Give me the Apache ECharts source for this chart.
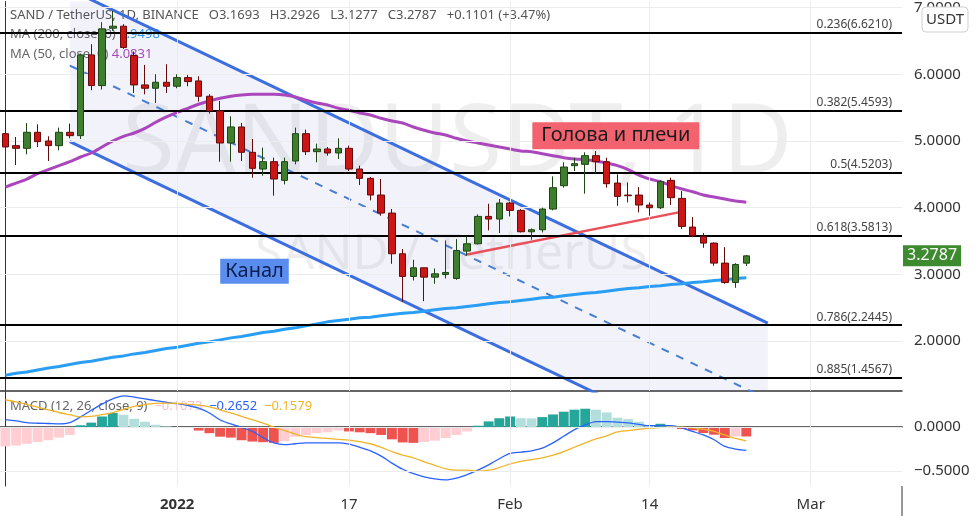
<!DOCTYPE html>
<html>
<head>
<meta charset="utf-8">
<script src="https://cdn.jsdelivr.net/npm/echarts@6/dist/echarts.min.js"></script>
<style>
  html, body { margin: 0; padding: 0; background: #fff; }
  #chart { width: 977px; height: 516px; }
</style>
</head>
<body>
<div id="chart"></div>
<script>
// daily slots, Dec 16 2021 .. Mar 9 2022 (candles fill the first 70)
const days = [];
for (let d = new Date(Date.UTC(2021, 11, 16)), k = 0; k < 84; k++, d.setUTCDate(d.getUTCDate() + 1)) {
  days.push(d.toISOString().slice(0, 10));
}
const tickIdx = [16, 32, 47, 60, 75];
const tickText = ['2022', '17', 'Feb', '14', 'Mar'];
const priceTicks = [2, 3, 4, 5, 6, 7];
const macdTicks = [0, -0.5];

// OHLC
const candleO = [5.11,4.93,4.89,5.13,5.00,4.93,5.13,5.08,6.29,5.83, 6.69,6.72,6.28,5.84,5.79,5.88,5.82,5.95,5.90,5.67,
  5.45,4.97,5.21,4.83,4.58,4.69,4.41,4.70,5.11,4.84, 4.88,4.82,4.89,4.58,4.44,4.19,3.92,3.31,2.97,3.10,
  2.96,3.00,2.94,3.35,3.46,3.87,3.83,4.07,3.96,3.64, 3.67,3.98,4.33,4.63,4.65,4.78,4.69,4.37,4.19,4.19,
  4.04,4.00,4.41,4.14,3.71,3.57,3.47,3.17,2.88,3.1693];
const candleC = [4.91,4.89,5.13,4.99,4.93,5.13,5.08,6.29,5.83,6.68, 6.72,6.40,5.84,5.79,5.88,5.82,5.95,5.89,5.67,5.45,
  4.97,5.21,4.83,4.59,4.69,4.43,4.69,5.11,4.84,4.88, 4.82,4.89,4.58,4.44,4.19,3.92,3.31,2.97,3.10,2.96,
  3.01,3.03,3.36,3.46,3.87,3.83,4.07,3.96,3.64,3.67, 3.98,4.30,4.61,4.66,4.78,4.69,4.36,4.17,4.18,4.04,
  4.00,4.39,4.15,3.72,3.58,3.47,3.17,2.88,3.15,3.2787];
const candleL = [4.90,4.64,4.80,4.91,4.70,4.86,5.04,5.03,5.76,5.77, 6.65,6.38,5.72,5.70,5.57,5.72,5.79,5.82,5.59,5.41,
  4.69,4.69,4.70,4.45,4.48,4.18,4.35,4.65,4.79,4.68, 4.78,4.73,4.55,4.34,4.11,3.88,3.16,2.59,2.91,2.60,
  2.86,2.94,2.92,3.28,3.45,3.66,3.62,3.87,3.63,3.52, 3.63,3.96,4.30,4.55,4.21,4.51,4.30,4.03,4.08,3.93,
  3.88,3.98,4.04,3.68,3.56,3.40,3.13,2.86,2.80,3.1277];
const candleH = [5.34,5.06,5.27,5.25,5.07,5.20,5.26,6.31,6.45,6.78, 6.95,6.75,6.34,6.14,6.00,6.15,6.00,5.99,5.97,5.70,
  5.60,5.37,5.27,5.03,4.90,4.75,4.75,5.20,5.17,4.96, 4.91,5.04,4.93,4.63,4.46,4.43,3.98,3.38,3.22,3.10,
  3.09,3.51,3.53,3.57,3.90,4.06,4.13,4.09,3.98,3.69, 4.00,4.47,4.68,4.75,4.83,4.85,4.75,4.50,4.38,4.31,
  4.08,4.41,4.45,4.25,3.86,3.62,3.48,3.41,3.17,3.2926];

const ma50 = [4.31,4.37,4.43,4.51,4.57,4.63,4.69,4.76,4.82,4.91, 5.00,5.07,5.12,5.19,5.28,5.36,5.43,5.49,5.55,5.60,
  5.64,5.67,5.69,5.70,5.70,5.70,5.69,5.66,5.61,5.57, 5.54,5.49,5.46,5.42,5.39,5.34,5.30,5.27,5.21,5.16,
  5.12,5.09,5.04,5.00,4.97,4.94,4.91,4.88,4.85,4.84, 4.81,4.78,4.75,4.73,4.72,4.70,4.67,4.63,4.57,4.49,
  4.43,4.39,4.33,4.28,4.24,4.19,4.16,4.13,4.10,4.0831];
const ma200 = [1.49,1.52,1.54,1.57,1.60,1.62,1.65,1.68,1.70,1.73, 1.76,1.78,1.81,1.83,1.86,1.89,1.91,1.94,1.97,1.99,
  2.02,2.05,2.07,2.10,2.13,2.15,2.18,2.20,2.23,2.26, 2.29,2.31,2.33,2.35,2.36,2.38,2.40,2.42,2.43,2.45,
  2.47,2.49,2.50,2.52,2.54,2.56,2.58,2.59,2.61,2.63, 2.65,2.66,2.68,2.70,2.72,2.73,2.75,2.77,2.79,2.80,
  2.82,2.83,2.85,2.86,2.88,2.89,2.91,2.92,2.94,2.9498];

// MACD (12, 26, close, 9)
const macdHist = [-0.22,-0.21,-0.19,-0.17,-0.15,-0.12,-0.09,0.02,0.05,0.12, 0.16,0.14,0.094,0.06,0.026,0.007,-0.003,-0.01,-0.04,-0.07,
  -0.11,-0.12,-0.15,-0.165,-0.172,-0.18,-0.16,-0.11,-0.09,-0.07, -0.06,-0.04,-0.05,-0.06,-0.07,-0.09,-0.14,-0.175,-0.18,-0.17,
  -0.155,-0.125,-0.09,-0.05,0.015,0.064,0.10,0.12,0.10,0.098, 0.113,0.143,0.174,0.197,0.208,0.197,0.166,0.106,0.09,0.06,
  0.02,0.037,0.015,-0.023,-0.038,-0.068,-0.087,-0.125,-0.106,-0.1073];
const macdLine = [0.085,0.07,0.05,0.043,0.04,0.036,0.05,0.115,0.19,0.26, 0.32,0.355,0.34,0.32,0.30,0.28,0.265,0.245,0.215,0.16,
  0.08,0.035,-0.005,-0.05,-0.12,-0.18,-0.2,-0.19,-0.18,-0.18, -0.18,-0.18,-0.195,-0.23,-0.27,-0.33,-0.41,-0.48,-0.53,-0.565,
  -0.59,-0.6,-0.58,-0.54,-0.49,-0.43,-0.36,-0.30,-0.285,-0.27, -0.24,-0.18,-0.105,-0.03,0.025,0.062,0.062,0.055,0.047,0.03,
  0.015,0.015,0.015,-0.01,-0.05,-0.09,-0.145,-0.22,-0.25,-0.2652];
const signalLine = [0.31,0.285,0.255,0.225,0.195,0.165,0.14,0.115,0.12,0.14, 0.165,0.20,0.235,0.255,0.268,0.272,0.268,0.258,0.25,0.23,
  0.195,0.16,0.12,0.085,0.045,0.0,-0.04,-0.08,-0.11,-0.12, -0.13,-0.14,-0.148,-0.165,-0.19,-0.23,-0.28,-0.32,-0.35,-0.395,
  -0.435,-0.475,-0.49,-0.49,-0.5,-0.49,-0.46,-0.42,-0.39,-0.37, -0.35,-0.32,-0.28,-0.23,-0.18,-0.135,-0.10,-0.055,-0.04,-0.025,
  -0.012,-0.005,0.0,0.0,-0.01,-0.025,-0.05,-0.09,-0.13,-0.1579];

// drawings (x = day slot, y = price)
const fibRatio = ['0.236', '0.382', '0.5', '0.618', '0.786', '0.885'];
const fibPrice = [6.6210, 5.4593, 4.5203, 3.5813, 2.2445, 1.4567];
const chanX = [6, 71];
const chanTop = [7.27, 2.27];
const chanMid = [6.13, 1.13];
const chanBot = [4.99, -0.01];
const neckX = [43, 62.7];
const neckY = [3.30, 3.93];
const lastPrice = 3.2787;

const FONT = '"Noto Sans", sans-serif';
const chart = echarts.init(document.getElementById('chart'));

const candles = candleO.map((o, i) => [o, candleC[i], candleL[i], candleH[i]]);
const pts = (xs, ys) => xs.map((x, i) => [x, ys[i]]);

function histColor(p) {
  const v = macdHist[p.dataIndex];
  const prev = p.dataIndex > 0 ? macdHist[p.dataIndex - 1] : v;
  if (v >= 0) return v >= prev ? '#26a69a' : '#b2dfdb';
  return v < prev ? '#ef5350' : '#ffcdd2';
}

const option = {
  animation: false,
  textStyle: { fontFamily: FONT },
  grid: [
    { left: 0, right: 75, top: 0, height: 391 },
    { left: 0, right: 75, top: 392, height: 94 }
  ],
  xAxis: [
    { type: 'category', gridIndex: 0, data: days, axisLine: { lineStyle: { color: '#333', width: 1.5 } },
      axisTick: { show: false }, axisLabel: { show: false }, splitLine: { show: false } },
    { type: 'category', gridIndex: 1, data: days, axisLine: { lineStyle: { color: '#333', width: 1.5 } },
      axisTick: { show: false }, splitLine: { show: false },
      axisLabel: {
        interval: (i) => tickIdx.includes(i),
        formatter: (v, i) => {
          const k = tickIdx.indexOf(i);
          return k === 0 ? '{b|' + tickText[k] + '}' : tickText[k];
        },
        fontSize: 15, color: '#333', margin: 11,
        rich: { b: { fontWeight: 'bold', fontSize: 15, color: '#333' } }
      } },
    { type: 'value', gridIndex: 0, min: -0.5, max: 83.5, show: false },
    { type: 'value', gridIndex: 1, min: -0.5, max: 83.5, show: false }
  ],
  yAxis: [
    { type: 'value', gridIndex: 0, position: 'right', min: 1.254, max: 7.09,
      axisLine: { show: true, lineStyle: { color: '#333' } }, axisTick: { show: false }, splitLine: { show: false },
      axisLabel: { customValues: priceTicks, formatter: v => v.toFixed(4), fontSize: 15, color: '#333', margin: 12 } },
    { type: 'value', gridIndex: 1, position: 'right', min: -0.67, max: 0.398,
      axisLine: { show: true, lineStyle: { color: '#333' } }, axisTick: { show: false }, splitLine: { show: false },
      axisLabel: { customValues: macdTicks, formatter: v => (v < 0 ? '\u2212' : '') + Math.abs(v).toFixed(4),
        fontSize: 15, color: '#333', margin: 12 } }
  ],
  graphic: [
    { type: 'text', left: 122, top: 98, silent: true, z: 0,
      style: { text: 'SANDUSDT, 1D', font: '96px ' + FONT, fill: 'rgba(0,0,0,0.065)' } },
    { type: 'text', left: 255, top: 230, silent: true, z: 0,
      style: { text: 'SAND / TetherUS', font: '50px ' + FONT, fill: 'rgba(0,0,0,0.065)' } },
    { type: 'text', left: 10, top: 9, silent: true, z: 0,
      style: { text: 'SAND / TetherUS, 1D, BINANCE   O3.1693   H3.2926   L3.1277   C3.2787   +0.1101 (+3.47%)',
        font: '13px ' + FONT, fill: '#555' } },
    { type: 'text', left: 10, top: 28, silent: true, z: 0,
      style: { text: '{a|MA (200, close, 0)} {b|2.9498}', font: '13px ' + FONT,
        rich: { a: { fill: '#666', font: '13px ' + FONT }, b: { fill: '#2a9df4', font: '13px ' + FONT } } } },
    { type: 'text', left: 10, top: 48, silent: true, z: 0,
      style: { text: '{a|MA (50, close, 0)} {b|4.0831}', font: '13px ' + FONT,
        rich: { a: { fill: '#666', font: '13px ' + FONT }, b: { fill: '#ab47bc', font: '13px ' + FONT } } } },
    { type: 'text', left: 10, top: 400, silent: true, z: 0,
      style: { text: '{a|MACD (12, 26, close, 9)}  {h|\u22120.1073}  {m|\u22120.2652}  {s|\u22120.1579}', font: '13px ' + FONT,
        rich: { a: { fill: '#666', font: '13px ' + FONT }, h: { fill: '#f5c2cc', font: '13px ' + FONT },
          m: { fill: '#2962ff', font: '13px ' + FONT }, s: { fill: '#f0b429', font: '13px ' + FONT } } } },
    { type: 'rect', shape: { x: 922, y: 7, width: 46, height: 25, r: 4 }, z: 100, silent: true,
      style: { fill: '#fff', stroke: '#cfcfcf', lineWidth: 1 } },
    { type: 'text', x: 945, y: 20, z: 101, silent: true,
      style: { text: 'USDT', font: '15px ' + FONT, fill: '#333', align: 'center', verticalAlign: 'middle' } },
    { type: 'line', shape: { x1: 902, y1: 486, x2: 902, y2: 516 }, z: 100, silent: true,
      style: { stroke: '#333', lineWidth: 1 } }
  ],
  series: [
    { // grid lines, price pane
      type: 'line', xAxisIndex: 2, yAxisIndex: 0, data: [], z: 1, silent: true,
      markLine: { silent: true, symbol: 'none', label: { show: false },
        lineStyle: { color: '#ececec', width: 1, type: 'solid' },
        data: tickIdx.map(i => ({ xAxis: i })).concat(priceTicks.map(v => ({ yAxis: v }))) } },
    { // grid lines, MACD pane
      type: 'line', xAxisIndex: 3, yAxisIndex: 1, data: [], z: 1, silent: true,
      markLine: { silent: true, symbol: 'none', label: { show: false },
        lineStyle: { color: '#ececec', width: 1, type: 'solid' },
        data: tickIdx.map(i => ({ xAxis: i })).concat(macdTicks.map(v => ({ yAxis: v }))) } },
    { // channel fill
      type: 'custom', xAxisIndex: 2, yAxisIndex: 0, z: 1, silent: true, clip: true,
      data: [[chanX[0], 3]],
      renderItem: (params, api) => {
        const poly = [[chanX[0], chanTop[0]], [chanX[1], chanTop[1]], [chanX[1], chanBot[1]], [chanX[0], chanBot[0]]]
          .map(p => api.coord(p));
        return { type: 'polygon', shape: { points: poly }, style: { fill: 'rgba(100,110,200,0.09)' } };
      } },
    { // fibonacci levels
      type: 'line', xAxisIndex: 2, yAxisIndex: 0, data: [], z: 2, silent: true,
      markLine: { silent: true, symbol: 'none',
        lineStyle: { color: '#000', width: 2, type: 'solid' },
        label: { show: true, position: 'insideEndTop', formatter: '{b}', color: '#444', fontSize: 12, distance: [10, 2] },
        data: fibPrice.map((p, k) => ({ yAxis: p, name: fibRatio[k] + '(' + p.toFixed(4) + ')' })) } },
    { // current price tag on the axis
      type: 'line', xAxisIndex: 2, yAxisIndex: 0, data: [], z: 20, silent: true,
      markLine: { silent: true, symbol: 'none', lineStyle: { color: 'rgba(0,0,0,0)', width: 1 },
        label: { show: true, position: 'end', distance: 1, formatter: lastPrice.toFixed(4),
          backgroundColor: '#3d8a2f', color: '#fff', fontSize: 16, padding: [3, 4, 2, 4] },
        data: [{ yAxis: lastPrice }] } },
    { type: 'line', xAxisIndex: 2, yAxisIndex: 0, data: pts(chanX, chanTop), symbol: 'none', z: 3, silent: true,
      lineStyle: { color: '#3d6ee0', width: 3 } },
    { type: 'line', xAxisIndex: 2, yAxisIndex: 0, data: pts(chanX, chanBot), symbol: 'none', z: 3, silent: true,
      lineStyle: { color: '#3d6ee0', width: 3 } },
    { type: 'line', xAxisIndex: 2, yAxisIndex: 0, data: pts(chanX, chanMid), symbol: 'none', z: 3, silent: true,
      lineStyle: { color: '#4a7ed0', width: 2, type: [8, 8] } },
    { name: 'MA200', type: 'line', xAxisIndex: 0, yAxisIndex: 0, data: ma200, symbol: 'none', z: 3,
      lineStyle: { color: '#2a9df4', width: 3 } },
    { name: 'MA50', type: 'line', xAxisIndex: 0, yAxisIndex: 0, data: ma50, symbol: 'none', smooth: 0.3, z: 3,
      lineStyle: { color: '#ab47bc', width: 3 } },
    { type: 'line', xAxisIndex: 2, yAxisIndex: 0, data: pts(neckX, neckY), symbol: 'none', z: 3, silent: true,
      lineStyle: { color: '#e8505b', width: 2.5 } },
    { name: 'SANDUSDT', type: 'candlestick', xAxisIndex: 0, yAxisIndex: 0, data: candles, barWidth: 7, z: 5,
      itemStyle: { color: '#3e7e2e', color0: '#cc1515', borderColor: '#1d4613', borderColor0: '#650b0b', borderWidth: 1 } },
    { type: 'scatter', xAxisIndex: 2, yAxisIndex: 0, symbolSize: 0.01, z: 10, silent: true,
      itemStyle: { color: 'rgba(0,0,0,0)', opacity: 1 },
      label: { show: true, position: 'inside', formatter: '{b}', fontSize: 20 },
      data: [
        { name: 'Голова и плечи', value: [56.85, 5.08],
          label: { backgroundColor: '#f2636f', color: '#1b1b1b', padding: [4, 9, 3, 9] } },
        { name: 'Канал', value: [23.2, 3.05],
          label: { backgroundColor: '#5b8def', color: '#0d1f52', padding: [3, 5, 2, 5] } }
      ] },
    { name: 'Histogram', type: 'bar', xAxisIndex: 1, yAxisIndex: 1, data: macdHist, barCategoryGap: '8%', z: 3,
      itemStyle: { color: histColor } },
    { name: 'MACD', type: 'line', xAxisIndex: 1, yAxisIndex: 1, data: macdLine, symbol: 'none', smooth: 0.3, z: 4,
      lineStyle: { color: '#2962ff', width: 1.3 } },
    { name: 'Signal', type: 'line', xAxisIndex: 1, yAxisIndex: 1, data: signalLine, symbol: 'none', smooth: 0.3, z: 4,
      lineStyle: { color: '#f0b429', width: 1.3 } }
  ]
};
chart.setOption(option);
</script>
</body>
</html>
